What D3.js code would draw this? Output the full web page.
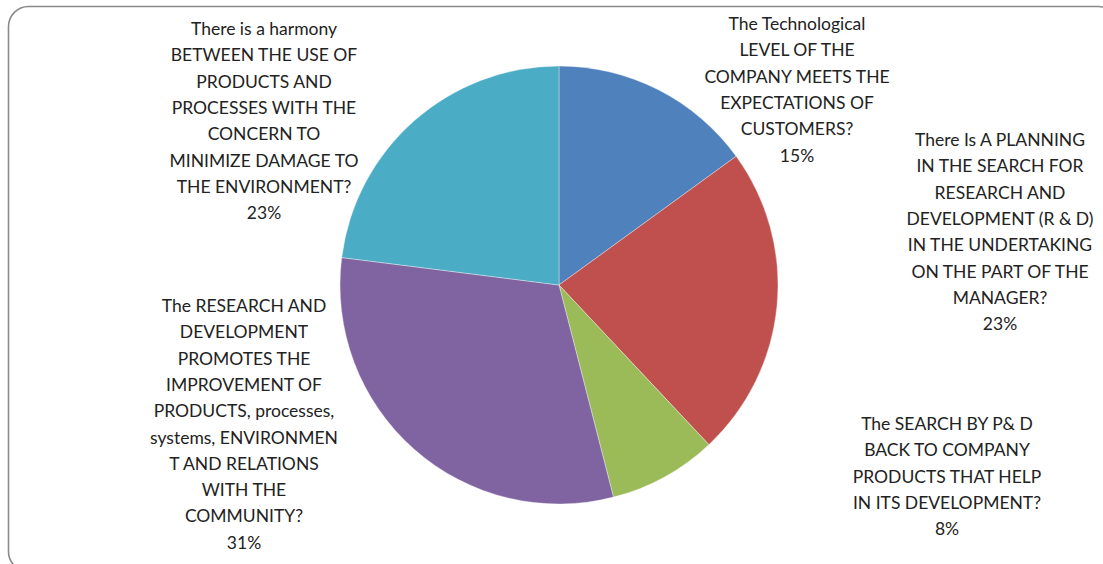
<!DOCTYPE html>
<html>
<head>
<meta charset="utf-8">
<script src="https://cdn.jsdelivr.net/npm/d3@7/dist/d3.min.js"></script>
<style>
  body { margin: 0; background: #fff; }
  svg text { font-family: Lato, "Open Sans", sans-serif; }
</style>
</head>
<body>
<svg id="chart"></svg>
<script>
// slice order: clockwise from 12 o'clock
const categories = [
    ["The Technological", "LEVEL OF THE", "COMPANY MEETS THE", "EXPECTATIONS OF", "CUSTOMERS?"],
    ["There Is A PLANNING", "IN THE SEARCH FOR", "RESEARCH AND", "DEVELOPMENT (R & D)", "IN THE UNDERTAKING", "ON THE PART OF THE", "MANAGER?"],
    ["The SEARCH BY P& D", "BACK TO COMPANY", "PRODUCTS THAT HELP", "IN ITS DEVELOPMENT?"],
    ["The RESEARCH AND", "DEVELOPMENT", "PROMOTES THE", "IMPROVEMENT OF", "PRODUCTS, processes,", "systems, ENVIRONMEN", "T AND RELATIONS", "WITH THE", "COMMUNITY?"],
    ["There is a harmony", "BETWEEN THE USE OF", "PRODUCTS AND", "PROCESSES WITH THE", "CONCERN TO", "MINIMIZE DAMAGE TO", "THE ENVIRONMENT?"]
];
const values = [15, 23, 8, 31, 23];
const colors = ["#4f81bd", "#c0504d", "#9bbb59", "#8064a2", "#4bacc6"];

// label anchors (center x, first baseline) — Excel placed these by hand
const labelPos = [[797, 30], [1000, 146], [947, 430], [244, 312], [264, 35]];

const W = 1103, H = 564;
const cx = 559, cy = 285, R = 219;
const lineH = 26.3;

const svg = d3.select("#chart").attr("width", W).attr("height", H);

// frame
svg.append("rect")
    .attr("x", 8.5).attr("y", 6.5).attr("width", 1110).attr("height", 565)
    .attr("rx", 20).attr("fill", "#fff")
    .attr("stroke", "#8a8a8a").attr("stroke-width", 1.6);

const pie = d3.pie().sort(null).value(d => d);
const arc = d3.arc().innerRadius(0).outerRadius(R);

const g = svg.append("g").attr("transform", `translate(${cx},${cy})`);
g.selectAll("path").data(pie(values)).enter().append("path")
    .attr("d", arc)
    .attr("fill", (d, i) => colors[i])
    .attr("stroke", "#ffffff").attr("stroke-opacity", 0.6).attr("stroke-width", 0.6);

// labels
const fmt = d3.format(".0%");
const total = d3.sum(values);
categories.forEach((lines, i) => {
    const t = svg.append("text")
        .attr("text-anchor", "middle")
        .style("font-size", "17.5px").style("fill", "#222");
    lines.concat([fmt(values[i] / total)]).forEach((s, k) => {
        t.append("tspan")
            .attr("x", labelPos[i][0])
            .attr("y", labelPos[i][1] + k * lineH)
            .text(s);
    });
});
</script>
</body>
</html>
